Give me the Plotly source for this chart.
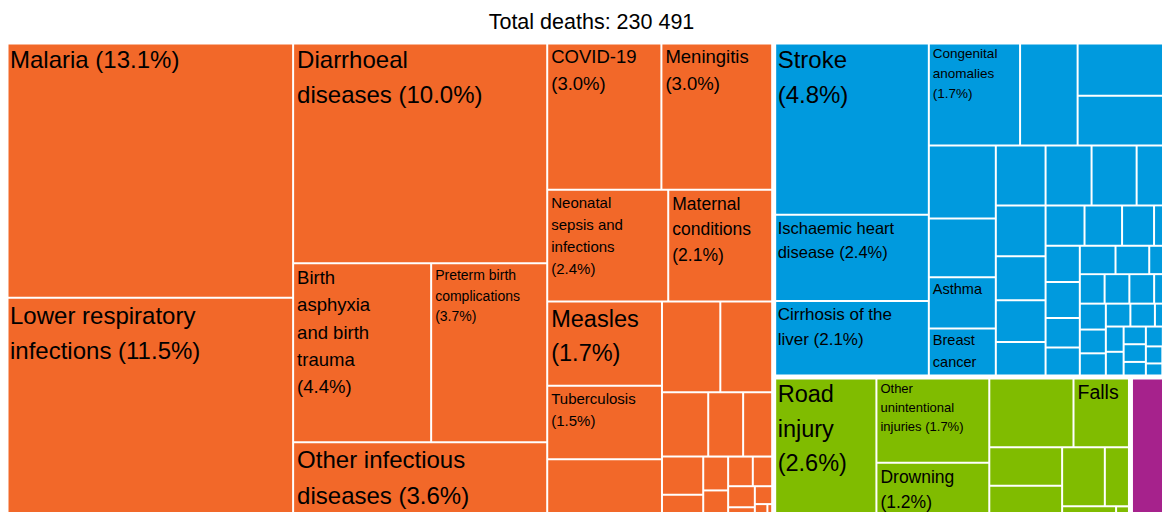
import plotly.graph_objects as go

title_text = "Total deaths: 230 491"

group_ids = ["COM", "NCD", "INJ"]
group_names = ["Communicable, maternal, perinatal and nutritional conditions",
               "Noncommunicable diseases", "Injuries"]
group_colors = {"COM": "#F26829", "NCD": "#009ADE", "INJ": "#80BC00", "OTH": "#A6228C"}

# Labelled causes: share of total deaths (%)
com_causes = ["Malaria", "Lower respiratory infections", "Diarrhoeal diseases",
              "Birth asphyxia and birth trauma", "Preterm birth complications",
              "Other infectious diseases", "COVID-19", "Meningitis",
              "Neonatal sepsis and infections", "Maternal conditions", "Measles", "Tuberculosis"]
com_shares = [13.06, 11.46, 10.0, 4.4, 3.7, 3.6, 3.0, 2.95, 2.41, 2.1, 1.72, 1.5]
com_minor = [1.28, 0.94, 0.86, 0.53, 0.40, 0.35,
             0.28, 0.20, 0.15, 0.14, 0.13, 0.11, 0.10, 0.07, 0.06, 0.04, 0.02]

ncd_causes = ["Stroke", "Ischaemic heart disease", "Cirrhosis of the liver",
              "Congenital anomalies", "Asthma", "Breast cancer"]
ncd_shares = [4.77, 2.38, 2.1, 1.68, 0.61, 0.58]
ncd_minor = [1.06, 0.95, 0.88, 0.87, 0.70,
             0.53, 0.49, 0.48, 0.43, 0.45, 0.39, 0.37, 0.31, 0.28, 0.27, 0.23, 0.165,
             0.22, 0.22, 0.18, 0.18, 0.18, 0.17, 0.14, 0.13, 0.13, 0.13, 0.12, 0.12,
             0.11, 0.11, 0.10, 0.10, 0.09, 0.08, 0.08, 0.07, 0.07, 0.06, 0.06, 0.05,
             0.05, 0.04, 0.04, 0.04]

inj_causes = ["Road injury", "Other unintentional injuries", "Drowning", "Falls"]
inj_shares = [2.649, 1.72, 1.19, 0.71]
inj_minor = [1.05, 0.50, 0.47, 0.45, 0.27, 0.15, 0.04]

other_causes = ["Other causes"]
other_shares = [1.2]

# Tile label wording ({p} = share)
label_templates = {
    "Malaria": "Malaria ({p})",
    "Lower respiratory infections": "Lower respiratory<br>infections ({p})",
    "Diarrhoeal diseases": "Diarrhoeal<br>diseases ({p})",
    "Birth asphyxia and birth trauma": "Birth<br>asphyxia<br>and birth<br>trauma<br>({p})",
    "Preterm birth complications": "Preterm birth<br>complications<br>({p})",
    "Other infectious diseases": "Other infectious<br>diseases ({p})",
    "COVID-19": "COVID-19<br>({p})",
    "Meningitis": "Meningitis<br>({p})",
    "Neonatal sepsis and infections": "Neonatal<br>sepsis and<br>infections<br>({p})",
    "Maternal conditions": "Maternal<br>conditions<br>({p})",
    "Measles": "Measles<br>({p})",
    "Tuberculosis": "Tuberculosis<br>({p})",
    "Stroke": "Stroke<br>({p})",
    "Ischaemic heart disease": "Ischaemic heart<br>disease ({p})",
    "Cirrhosis of the liver": "Cirrhosis of the<br>liver ({p})",
    "Congenital anomalies": "Congenital<br>anomalies<br>({p})",
    "Asthma": "Asthma",
    "Breast cancer": "Breast<br>cancer",
    "Road injury": "Road<br>injury<br>({p})",
    "Other unintentional injuries": "Other<br>unintentional<br>injuries ({p})",
    "Drowning": "Drowning<br>({p})",
    "Falls": "Falls",
}
label_px = {
    "Malaria": 24, "Lower respiratory infections": 24, "Diarrhoeal diseases": 24,
    "Birth asphyxia and birth trauma": 18.5, "Preterm birth complications": 14,
    "Other infectious diseases": 24, "COVID-19": 18.5, "Meningitis": 18.5,
    "Neonatal sepsis and infections": 15, "Maternal conditions": 17.5, "Measles": 23.5,
    "Tuberculosis": 15, "Stroke": 24, "Ischaemic heart disease": 16.5,
    "Cirrhosis of the liver": 17, "Congenital anomalies": 13.5, "Asthma": 14.5,
    "Breast cancer": 14.5, "Road injury": 23.5, "Other unintentional injuries": 13,
    "Drowning": 17.5, "Falls": 19.5,
}
LINE_FACTOR = 1.47 / 1.3

# Nesting of the tiles (int = number of next unlabelled causes of the group)
tree = [
    ("COM", [
        ("COM_a", ["Malaria", "Lower respiratory infections"]),
        ("COM_b", ["Diarrhoeal diseases",
                   ("COM_x", ["Birth asphyxia and birth trauma", "Preterm birth complications"]),
                   "Other infectious diseases"]),
        ("COM_c", [
            ("COM_c1", ["COVID-19", "Meningitis"]),
            ("COM_c2", ["Neonatal sepsis and infections", "Maternal conditions"]),
            ("COM_c3", [
                ("COM_c3a", ["Measles", "Tuberculosis", 1]),
                ("COM_c3b", [("COM_r1", [2]), ("COM_r2", [3]), ("COM_r3", [11])]),
            ]),
        ]),
    ]),
    ("NCD", [
        ("NCD_a", ["Stroke", "Ischaemic heart disease", "Cirrhosis of the liver"]),
        ("NCD_b", [
            ("NCD_top", ["Congenital anomalies", 1, ("NCD_rb", [2])]),
            ("NCD_low", [
                ("NCD_l1", [2, "Asthma", "Breast cancer"]),
                ("NCD_b2", [
                    ("NCD_rowt", [4]),
                    ("NCD_b2low", [
                        ("NCD_coll2", [4]),
                        ("NCD_b3", [("NCD_rowt3", [4]), ("NCD_b3low", [28])]),
                    ]),
                ]),
            ]),
        ]),
    ]),
    ("INJ", [
        "Road injury",
        ("INJ_2", ["Other unintentional injuries", "Drowning"]),
        ("INJ_3", [
            ("INJ_top", [1, "Falls"]),
            ("INJ_low", [("INJ_c1", [2]),
                         ("INJ_r", [("INJ_rt", [2]), ("INJ_rb", [2])])]),
        ]),
    ]),
    "Other causes",
]

share_of = {}
for names, shares in [(com_causes, com_shares), (ncd_causes, ncd_shares),
                      (inj_causes, inj_shares), (other_causes, other_shares)]:
    share_of.update(dict(zip(names, shares)))
minor_of = {"COM": iter(com_minor), "NCD": iter(ncd_minor), "INJ": iter(inj_minor)}

FONT = "Liberation Sans, Arial, Helvetica, sans-serif"
ids, labels, parents, values, colors, texts, sizes, groups_of = [], [], [], [], [], [], [], []


def add(i, lab, par, val, col, txt, size, grp):
    ids.append(i); labels.append(lab); parents.append(par); values.append(val)
    colors.append(col); texts.append(txt); sizes.append(size); groups_of.append(grp)


def styled(name):
    tpl = label_templates[name].replace("{p}", f"{share_of[name]:.1f}%")
    px = label_px[name]
    lines = tpl.split("<br>")
    html = "<br>".join(f"<span style='font-size:{px}px'>{ln}</span>" for ln in lines)
    return html, px * LINE_FACTOR


def walk(spec, parent, group):
    if isinstance(spec, str):
        col = group_colors[group]
        txt, size = styled(spec) if spec in label_templates else ("", 12)
        add(spec, spec, parent, share_of[spec], col, txt, size, group)
        return
    bid, children = spec
    lab = group_names[group_ids.index(bid)] if bid in group_ids else ""
    add(bid, lab, parent, 0, "white", "", 12, group)
    k = 0
    for ch in children:
        if isinstance(ch, int):
            for _ in range(ch):
                k += 1
                add(f"{bid}_{k}", "Other cause", bid, next(minor_of[group]),
                    group_colors[group], "", 12, group)
        else:
            walk(ch, bid, group)


add("all", "All causes", "", 0, "white", "", 12, None)
for spec in tree:
    if isinstance(spec, str):
        walk(spec, "all", "OTH")
    else:
        walk(spec, "all", spec[0])

tiling = dict(packing="squarify", squarifyratio=1, pad=2)
no_pad = dict(t=0, l=0, r=0, b=0)

fig = go.Figure(go.Treemap(
    ids=ids, labels=labels, parents=parents, values=values,
    branchvalues="remainder", sort=False,
    text=texts, textinfo="text", textposition="top left",
    textfont=dict(family=FONT, color="black", size=sizes),
    insidetextfont=dict(family=FONT, color="black", size=sizes),
    marker=dict(colors=colors, line=dict(width=0), pad=no_pad, depthfade=False),
    tiling=tiling,
    pathbar=dict(visible=False),
    root=dict(color="white"),
    hoverinfo="label+value",
))

# White separators between the top-level groups (same squarified group layout)
top_keys = ["COM", "NCD", "INJ", "OTH"]
top_ids = ["COM", "NCD", "INJ", "Other causes"]
top_totals = [sum(v for v, g in zip(values, groups_of) if g == k) for k in top_keys]
fig.add_trace(go.Treemap(
    ids=["sep_root"] + ["sep_" + t for t in top_ids],
    labels=["", "", "", "", ""],
    parents=[""] + ["sep_root"] * 4,
    values=[0] + top_totals,
    branchvalues="remainder", sort=False,
    textinfo="none", hoverinfo="skip",
    marker=dict(colors=["rgba(0,0,0,0)"] * 5,
                line=dict(color="white", width=[0, 3, 3, 3, 3]),
                pad=no_pad, depthfade=False),
    tiling=tiling,
    pathbar=dict(visible=False),
))

fig.update_layout(
    width=1183, height=528,
    margin=dict(l=7, r=7, t=43, b=7),
    paper_bgcolor="white",
    showlegend=False,
    title=dict(text=title_text, x=0.5, xanchor="center", y=1 - 21.5 / 528,
               yanchor="middle", yref="container",
               font=dict(family=FONT, size=21.5, color="black")),
)

fig.write_html("out.html", config={"displayModeBar": False},
               post_script="document.body.style.margin = '0px';")
